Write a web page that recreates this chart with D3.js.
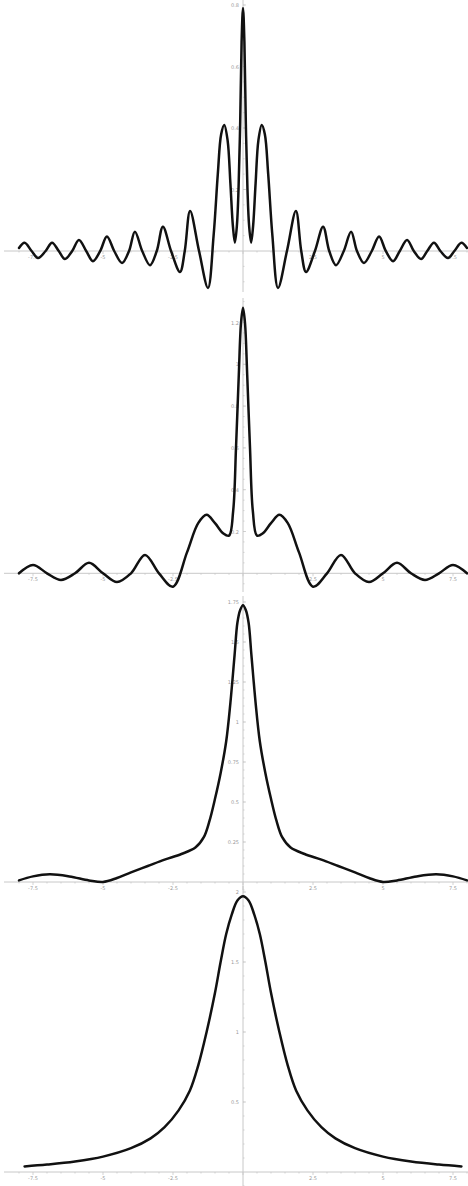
<!DOCTYPE html>
<html><head><meta charset="utf-8">
<script src="https://cdn.jsdelivr.net/npm/d3@7"></script>
<style>body{margin:0;background:#fff}svg{display:block}</style>
</head><body>
<svg id="c" width="468" height="1186"></svg>
<script>
// x tick labels (shared)
const xTicks = [-7.5, -5, -2.5, 2.5, 5, 7.5];

// Panel 1
const p1X = [-8,-7.8,-7.55,-7.32,-7.05,-6.82,-6.58,-6.36,-6.1,-5.86,-5.6,-5.36,-5.1,-4.86,-4.6,-4.32,-4.07,-3.86,-3.6,-3.32,-3.08,-2.86,-2.57,-2.25,-2.08,-1.89,-1.57,-1.25,-1.05,-0.9,-0.78,-0.67,-0.55,-0.45,-0.36,-0.29,-0.22,-0.16,-0.1,-0.05,0,0.05,0.1,0.16,0.22,0.29,0.36,0.45,0.55,0.67,0.78,0.9,1.05,1.25,1.57,1.89,2.08,2.25,2.57,2.86,3.08,3.32,3.6,3.86,4.07,4.32,4.6,4.86,5.1,5.36,5.6,5.86,6.1,6.36,6.58,6.82,7.05,7.32,7.55,7.8,8];
const p1Y = [0.01,0.027,0.0,-0.023,0.0,0.027,0.0,-0.026,0.0,0.036,0.0,-0.033,0.0,0.047,0.0,-0.039,0.0,0.063,0.0,-0.046,0.0,0.079,0.0,-0.068,0.0,0.13,0.0,-0.12,0.05,0.25,0.38,0.41,0.36,0.22,0.08,0.027,0.08,0.2,0.42,0.68,0.79,0.68,0.42,0.2,0.08,0.027,0.08,0.22,0.36,0.41,0.38,0.25,0.05,-0.12,0.0,0.13,0.0,-0.068,0.0,0.079,0.0,-0.046,0.0,0.063,0.0,-0.039,0.0,0.047,0.0,-0.033,0.0,0.036,0.0,-0.026,0.0,0.027,0.0,-0.023,0.0,0.027,0.01];
const p1Ticks = [0.2, 0.4, 0.6, 0.8];

// Panel 2
const p2X = [-8,-7.5,-7,-6.5,-6,-5.5,-5,-4.5,-4,-3.5,-3,-2.5,-2,-1.6,-1.3,-1,-0.7,-0.5,-0.35,-0.25,-0.15,-0.07,0,0.07,0.15,0.25,0.35,0.5,0.7,1,1.3,1.6,2,2.5,3,3.5,4,4.5,5,5.5,6,6.5,7,7.5,8];
const p2Y = [0.0,0.04,0.0,-0.032,0.0,0.05,0.0,-0.042,0.0,0.088,0.0,-0.064,0.1,0.24,0.28,0.24,0.19,0.18,0.3,0.6,0.95,1.2,1.27,1.2,0.95,0.6,0.3,0.18,0.19,0.24,0.28,0.24,0.1,-0.064,0.0,0.088,0.0,-0.042,0.0,0.05,0.0,-0.032,0.0,0.04,0.0];
const p2Ticks = [0.2, 0.4, 0.6, 0.8, 1, 1.2];

// Panel 3
const p3X = [-8,-7.5,-6.9,-6.2,-5.5,-5,-4.5,-4,-3.4,-2.8,-2.2,-1.7,-1.4,-1.2,-1,-0.8,-0.6,-0.45,-0.3,-0.2,-0.1,0,0.1,0.2,0.3,0.45,0.6,0.8,1,1.2,1.4,1.7,2.2,2.8,3.4,4,4.5,5,5.5,6.2,6.9,7.5,8];
const p3Y = [0.01,0.035,0.048,0.035,0.01,0.0,0.025,0.06,0.1,0.14,0.175,0.215,0.28,0.38,0.52,0.68,0.88,1.12,1.42,1.62,1.70,1.73,1.70,1.62,1.42,1.12,0.88,0.68,0.52,0.38,0.28,0.215,0.175,0.14,0.1,0.06,0.025,0.0,0.01,0.035,0.048,0.035,0.01];
const p3Ticks = [0.25, 0.5, 0.75, 1, 1.25, 1.5, 1.75];

// Panel 4
const p4X = [-7.8,-7,-6,-5,-4,-3.3,-2.8,-2.3,-1.9,-1.6,-1.3,-1,-0.8,-0.6,-0.4,-0.2,0,0.2,0.4,0.6,0.8,1,1.3,1.6,1.9,2.3,2.8,3.3,4,5,6,7,7.8];
const p4Y = [0.04,0.053,0.075,0.11,0.17,0.24,0.32,0.44,0.58,0.76,1.0,1.28,1.5,1.7,1.84,1.94,1.97,1.94,1.84,1.7,1.5,1.28,1.0,0.76,0.58,0.44,0.32,0.24,0.17,0.11,0.075,0.053,0.04];
const p4Ticks = [0.5, 1, 1.5, 2];

const panels = [
  {xs:p1X, ys:p1Y, ticks:p1Ticks, minor:0.05, top:0, axisY:251, bottom:292, pxPerUnit:307.5},
  {xs:p2X, ys:p2Y, ticks:p2Ticks, minor:0.05, top:298, axisY:573.3, bottom:592, pxPerUnit:209},
  {xs:p3X, ys:p3Y, ticks:p3Ticks, minor:0.05, top:596, axisY:882, bottom:890, pxPerUnit:160},
  {xs:p4X, ys:p4Y, ticks:p4Ticks, minor:0.1, top:886, axisY:1172, bottom:1186, pxPerUnit:140}
];

const svg = d3.select('#c');
const x = d3.scaleLinear().domain([-8, 8]).range([19, 467]);
const axisCol = '#c8c8c8', labCol = '#9a9a9a';

panels.forEach(p => {
  const yMin = (p.axisY - p.bottom) / p.pxPerUnit;
  const yMax = (p.axisY - p.top) / p.pxPerUnit;
  const y = d3.scaleLinear().domain([yMin, yMax]).range([p.bottom, p.top]);
  const g = svg.append('g');
  g.append('line').attr('x1', 4).attr('x2', 468).attr('y1', y(0)).attr('y2', y(0))
    .attr('stroke', axisCol).attr('stroke-width', 1);
  const xm = d3.range(-8, 8.01, 0.5);
  g.selectAll(null).data(xm).enter().append('line')
    .attr('x1', d => x(d)).attr('x2', d => x(d))
    .attr('y1', y(0)).attr('y2', d => y(0) + (d % 2.5 === 0 ? 3 : 1.5))
    .attr('stroke', axisCol).attr('stroke-width', 0.8);
  g.selectAll(null).data(xTicks).enter().append('text')
    .attr('x', d => x(d)).attr('y', y(0) + 8)
    .attr('text-anchor', 'middle').attr('font-size', 5).attr('font-family', 'DejaVu Sans')
    .attr('fill', labCol).text(d => d);
  g.append('line').attr('x1', x(0)).attr('x2', x(0)).attr('y1', p.top).attr('y2', p.bottom)
    .attr('stroke', axisCol).attr('stroke-width', 1);
  const ym = d3.range(Math.ceil(yMin / p.minor) * p.minor, yMax, p.minor).filter(v => Math.abs(v) > 1e-9);
  g.selectAll(null).data(ym).enter().append('line')
    .attr('x1', x(0)).attr('x2', x(0) + 1.5).attr('y1', d => y(d)).attr('y2', d => y(d))
    .attr('stroke', axisCol).attr('stroke-width', 0.8);
  g.selectAll(null).data(p.ticks).enter().append('line')
    .attr('x1', x(0)).attr('x2', x(0) + 3).attr('y1', d => y(d)).attr('y2', d => y(d))
    .attr('stroke', axisCol).attr('stroke-width', 0.8);
  g.selectAll(null).data(p.ticks).enter().append('text')
    .attr('x', x(0) - 4).attr('y', d => y(d) + 2)
    .attr('text-anchor', 'end').attr('font-size', 5).attr('font-family', 'DejaVu Sans')
    .attr('fill', labCol).text(d => d);
  const pts = p.xs.map((d, i) => [d, p.ys[i]]);
  g.append('path').datum(pts)
    .attr('d', d3.line().x(d => x(d[0])).y(d => y(d[1])).curve(d3.curveCatmullRom.alpha(0.5)))
    .attr('fill', 'none').attr('stroke', '#111').attr('stroke-width', 2.5)
    .attr('stroke-linejoin', 'round').attr('stroke-linecap', 'round');
});
</script>
</body></html>
